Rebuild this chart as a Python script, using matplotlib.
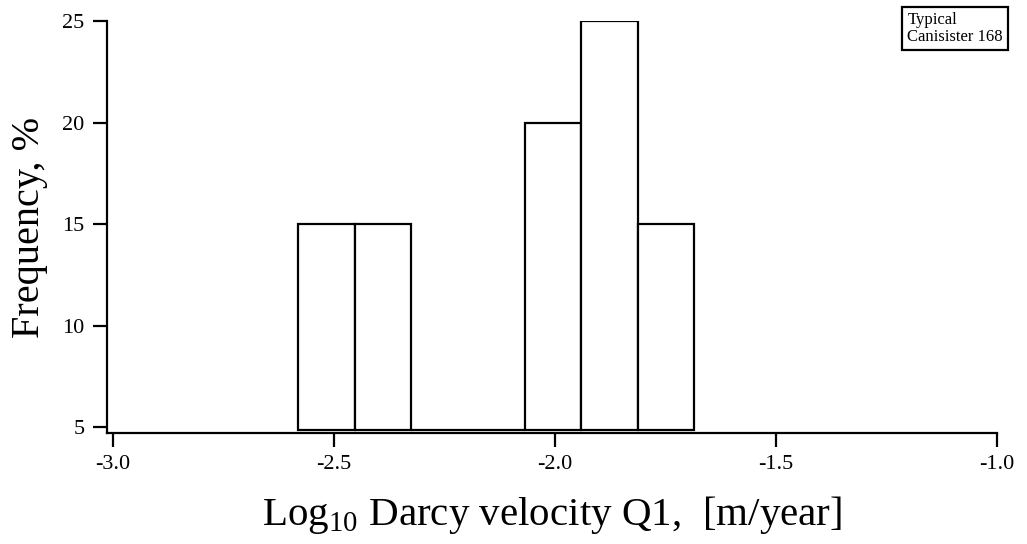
import matplotlib

matplotlib.use("Agg")
import matplotlib.pyplot as plt

# histogram of log10 Darcy velocity, canister 168
bin_edges = [-2.581, -2.453, -2.325, -2.197, -2.069, -1.941, -1.813, -1.685]
freq_pct = [15, 15, 0, 0, 20, 25, 15]
x_ticks = [-3.0, -2.5, -2.0, -1.5, -1.0]
y_ticks = [5, 10, 15, 20, 25]
note_text = "Typical\nCanisister 168"

plt.rcParams["font.family"] = ["Liberation Serif", "DejaVu Serif"]
plt.rcParams["mathtext.fontset"] = "custom"
plt.rcParams["mathtext.rm"] = "Liberation Serif"

fig = plt.figure(figsize=(10.27, 5.44), dpi=100)
ax = fig.add_axes([0.104, 0.204, 0.867, 0.757])

base = 4.85
lefts = bin_edges[:-1]
widths = [b - a for a, b in zip(bin_edges[:-1], bin_edges[1:])]
heights = [f - base if f > 0 else 0.0 for f in freq_pct]
ax.bar(lefts, heights, width=widths, bottom=base, align="edge",
       facecolor="white", edgecolor="black", linewidth=1.6, zorder=2)

ax.set_xlim(-3.014, -1.0)
ax.set_ylim(4.72, 25.0)
ax.set_xticks(x_ticks)
ax.set_xticklabels([f"{v:.1f}" for v in x_ticks])
ax.set_yticks(y_ticks)

for side in ("top", "right"):
    ax.spines[side].set_visible(False)
for side in ("left", "bottom"):
    ax.spines[side].set_linewidth(1.6)
ax.tick_params(direction="out", length=10, width=1.6, labelsize=16, pad=6)

ax.set_xlabel(r"Log$_{\mathrm{10}}$ Darcy velocity Q1,  [m/year]", fontsize=29.5, labelpad=14)
ax.set_ylabel("Frequency, %", fontsize=29, labelpad=10)

fig.text(0.8835, 0.978, note_text, ha="left", va="top", fontsize=12,
         linespacing=1.1,
         bbox=dict(boxstyle="square,pad=0.3", facecolor="white",
                   edgecolor="black", linewidth=1.6))

fig.savefig("out.png", dpi=100)
